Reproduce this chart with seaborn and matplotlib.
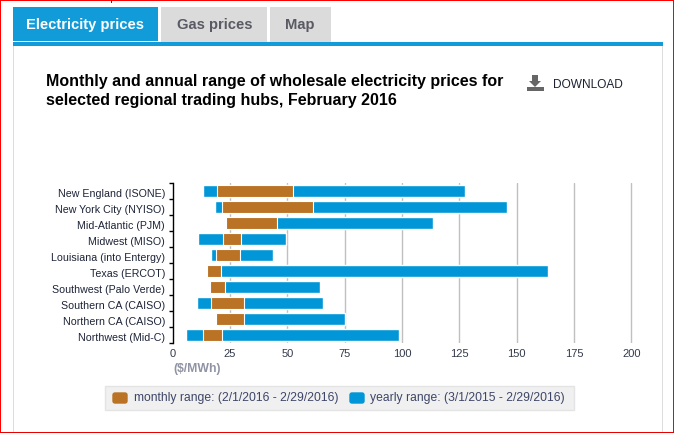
import numpy as np
import pandas as pd
import matplotlib
matplotlib.use('Agg')
import matplotlib.pyplot as plt
from matplotlib.patches import Rectangle, FancyBboxPatch, Polygon
from matplotlib.transforms import ScaledTranslation
import seaborn as sns

# Values ($/MWh)
hubs = ['New England (ISONE)', 'New York City (NYISO)', 'Mid-Atlantic (PJM)',
        'Midwest (MISO)', 'Louisiana (into Entergy)', 'Texas (ERCOT)',
        'Southwest (Palo Verde)', 'Southern CA (CAISO)', 'Northern CA (CAISO)',
        'Northwest (Mid-C)']
yearly_low = [13.2, 18.4, 23.2, 11.0, 16.7, 15.0, 16.3, 10.6, 18.9, 5.8]
monthly_low = [19.2, 21.4, 23.2, 21.8, 18.7, 15.0, 16.3, 16.6, 18.9, 13.1]
monthly_high = [52.6, 61.3, 45.6, 29.9, 29.5, 21.2, 23.0, 31.1, 31.1, 21.6]
yearly_high = [127.5, 145.8, 113.5, 49.4, 43.7, 163.7, 64.2, 65.6, 75.1, 98.7]
x_ticks = [0, 25, 50, 75, 100, 125, 150, 175, 200]

BLUE = '#0096d7'
BROWN = '#ba7325'
TAB_BLUE = '#119cd9'
GREY_TXT = '#5a5a64'

sns.set_style('white')
plt.rcParams['font.family'] = ['Liberation Sans', 'DejaVu Sans']

df = pd.DataFrame({'hub': hubs, 'yearly_low': yearly_low, 'monthly_low': monthly_low,
                   'monthly_high': monthly_high, 'yearly_high': yearly_high})
df['yearly_width'] = df['yearly_high'] - df['yearly_low']
df['monthly_width'] = df['monthly_high'] - df['monthly_low']

W, H = 674, 434
fig = plt.figure(figsize=(W / 100, H / 100), dpi=100, facecolor='white')

# Page furniture lives on a full-figure axes in pixel coordinates
page = fig.add_axes([0, 0, 1, 1], zorder=0)
page.set_xlim(0, W)
page.set_ylim(H, 0)
page.axis('off')


def box(x0, y0, x1, y1, color):
    page.add_patch(Rectangle((x0, y0), x1 - x0, y1 - y0, facecolor=color, edgecolor='none'))


# Red frame
box(0, 0, W, 1, '#ff0000')
box(0, 0, 1, 433, '#ff0000')
box(673, 0, 674, 433, '#ff0000')
box(0, 432, W, 433, '#e60000')

# Tabs
box(13, 7, 158, 41, TAB_BLUE)
box(161, 7, 267, 42, '#dbdbdb')
box(270, 7, 331, 42, '#dbdbdb')
box(13, 42, 663, 46, TAB_BLUE)
box(13, 46, 14, 432, '#dddddd')
box(662, 46, 663, 432, '#dddddd')
box(110.5, 0, 112, 3, '#333333')
page.text(85.5, 24.5, 'Electricity prices', color='white', fontsize=10.6, fontweight='bold',
          ha='center', va='center')
page.text(214.5, 25, 'Gas prices', color=GREY_TXT, fontsize=10.6, fontweight='bold',
          ha='center', va='center')
page.text(300, 25, 'Map', color=GREY_TXT, fontsize=10.6, fontweight='bold',
          ha='center', va='center')

# Title
page.text(46, 81.5, 'Monthly and annual range of wholesale electricity prices for', color='black',
          fontsize=11.5, fontweight='bold', va='center')
page.text(46, 100.5, 'selected regional trading hubs, February 2016', color='black',
          fontsize=11.5, fontweight='bold', va='center')

# Download icon and label
page.add_patch(Polygon([[532, 75], [538, 75], [538, 81], [541, 81], [535, 87], [529, 81], [532, 81]],
                       facecolor='#666666', edgecolor='none'))
box(527, 87, 544, 91, '#666666')
page.text(553, 85, 'DOWNLOAD', color='#1c2230', fontsize=8.6, va='center')

# Chart, a touch wider than 0-200 so the last gridline is not cut off
ax = fig.add_axes([172.7 / W, 1 - 343 / H, 460.9 / W, 160 / H], zorder=1)
ax.patch.set_alpha(0)
sns.barplot(data=df, x='yearly_width', y='hub', left=df['yearly_low'].values, color=BLUE,
            saturation=1, width=0.78, errorbar=None, ax=ax, zorder=3)
# The white edge eats into the brown, so it needs a little extra height
sns.barplot(data=df, x='monthly_width', y='hub', left=df['monthly_low'].values, color=BROWN,
            saturation=1, width=0.79, errorbar=None, ax=ax, zorder=4,
            edgecolor='white', linewidth=0.8)
ax.set_xlim(0, 201)
ax.set_ylim(9.5, -0.5)
ax.set_xlabel('')
ax.set_ylabel('')
ax.set_xticks(x_ticks)
ax.set_yticks(np.arange(-0.5, 10), minor=True)
ax.grid(axis='x', color='#c0c0c0', linewidth=1, zorder=1)
ax.set_axisbelow(True)
for side in ['top', 'right', 'bottom']:
    ax.spines[side].set_visible(False)
ax.spines['left'].set_color('black')
ax.spines['left'].set_linewidth(1)
ax.tick_params(axis='x', length=0, pad=4.5, labelsize=8, labelcolor='#333a4a')
ax.tick_params(axis='y', which='major', length=0, pad=5.5, labelsize=7.7, labelcolor='#1e2438')
ax.tick_params(axis='y', which='minor', left=True, length=3.2, width=1, color='black')
ax.xaxis.get_major_ticks()[0].gridline.set_visible(False)

# Hub names sit about 2px below the middle of their bars
shift = ScaledTranslation(0, -2 / 100, fig.dpi_scale_trans)
for label in ax.get_yticklabels():
    label.set_transform(label.get_transform() + shift)

page.text(173.5, 369, '($/MWh)', color='#8f93a3', fontsize=8.8, fontweight='bold', va='center')

# Legend
page.add_patch(Rectangle((104.5, 385.5), 469, 24, facecolor='#f0f0f0', edgecolor='#e4e4e4', linewidth=1))
page.add_patch(FancyBboxPatch((113, 393), 14, 10, boxstyle='round,pad=0,rounding_size=2',
                              facecolor=BROWN, edgecolor=BROWN, linewidth=1))
page.add_patch(FancyBboxPatch((350, 393), 14, 10, boxstyle='round,pad=0,rounding_size=2',
                              facecolor=BLUE, edgecolor=BLUE, linewidth=1))
page.text(133.5, 398.5, 'monthly range: (2/1/2016 - 2/29/2016)', color='#3e4668', fontsize=8.7, va='center')
page.text(370, 398.5, 'yearly range: (3/1/2015 - 2/29/2016)', color='#3e4668', fontsize=8.7, va='center')

fig.savefig('out.png', dpi=100)
